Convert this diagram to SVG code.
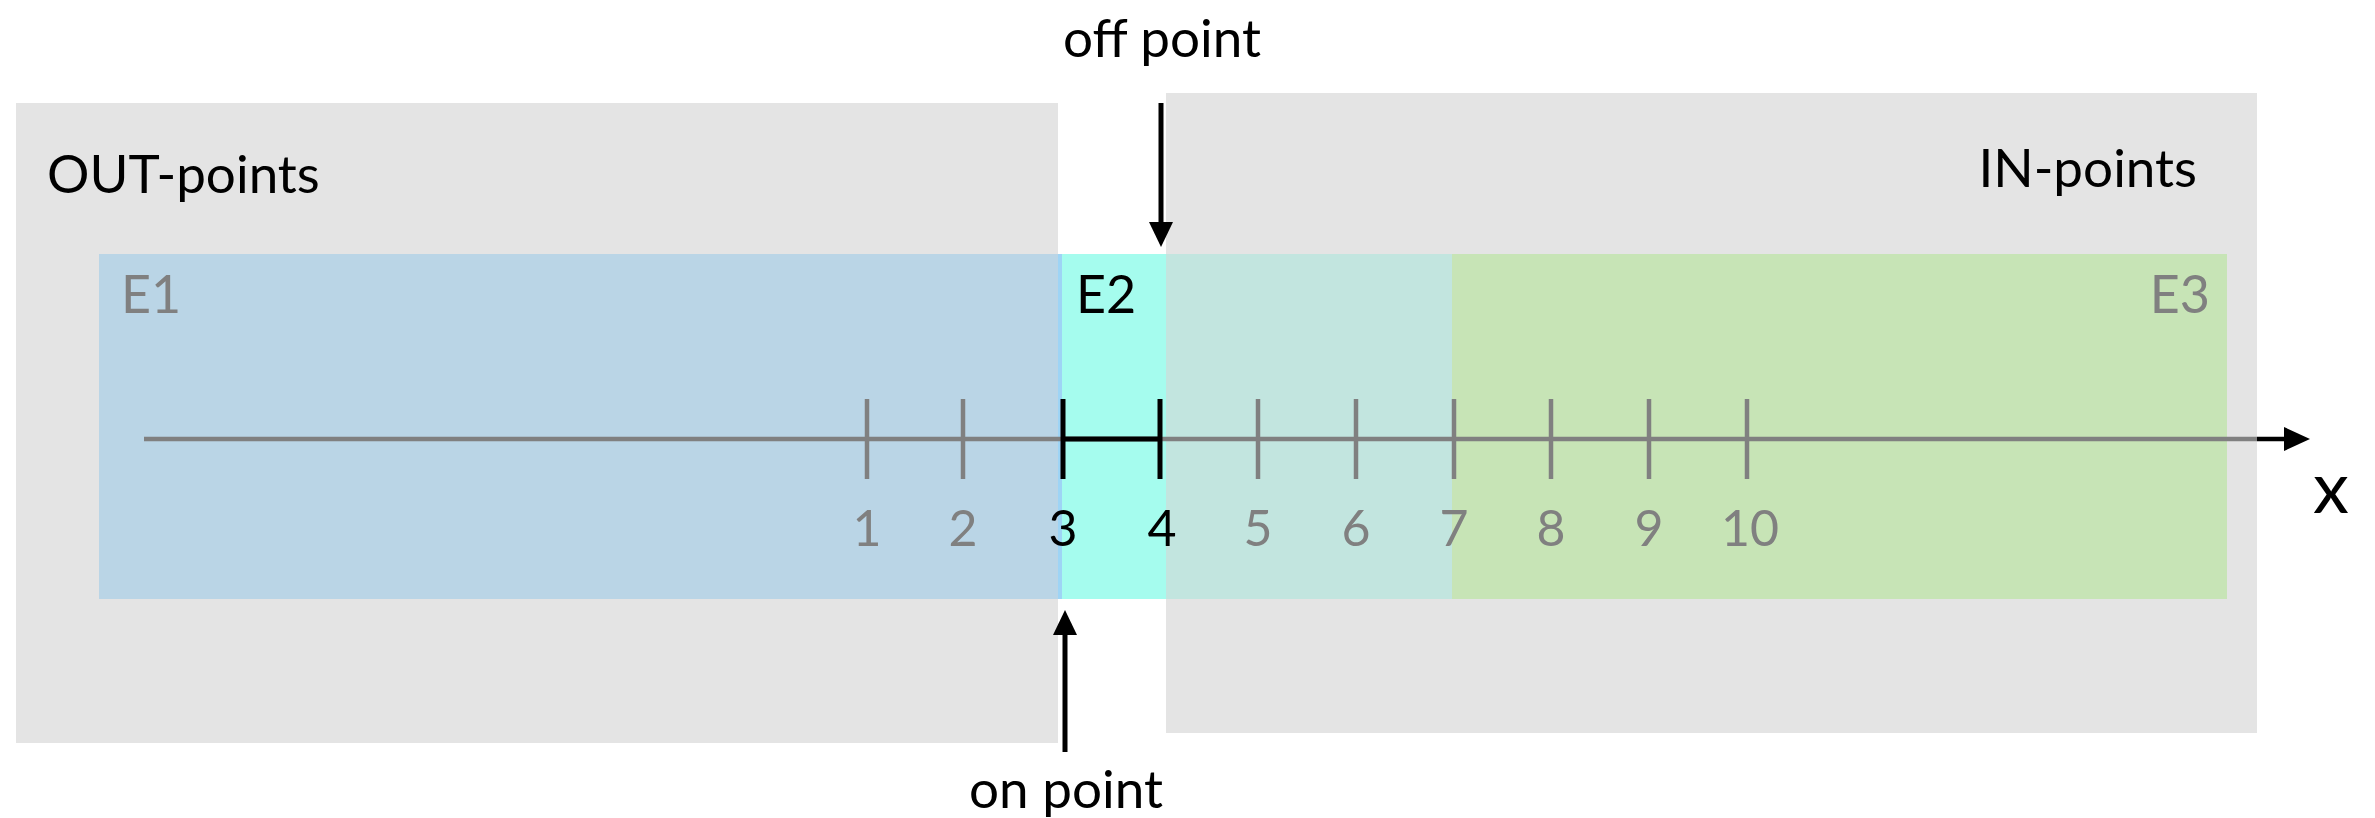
<svg xmlns="http://www.w3.org/2000/svg" width="2375" height="818" viewBox="0 0 2375 818">
<style>
text{font-family:Lato,"Liberation Sans",sans-serif}
.lbl{font-size:53px;fill:#000}
.e{font-size:52px;fill:#808080}
.num{font-size:50px;fill:#808080;text-anchor:middle}
.tick{stroke:#808080;stroke-width:4.5}
.btick{stroke:#000;stroke-width:5}
.arr{stroke:#000;stroke-width:5;fill:none}
</style>
<defs>
<marker id="ah" viewBox="0 0 10 10" refX="10" refY="5" markerWidth="10" markerHeight="10" markerUnits="userSpaceOnUse" orient="auto">
<path d="M0,0 L10,5 L0,10 z" fill="#000"/>
</marker>
</defs>
<g id="out-points">
<rect x="16" y="103" width="1042" height="640" fill="#E4E4E4"/>
<text class="lbl" x="47" y="193">OUT-points</text>
</g>
<g id="in-points">
<rect x="1166" y="93" width="1091" height="640" fill="#E4E4E4"/>
<text class="lbl" x="2197" y="187" text-anchor="end">IN-points</text>
</g>
<g id="E1">
<rect x="99" y="254" width="960" height="345" fill="#BAD5E6"/>
<text class="e" x="121" y="313">E1</text>
</g>
<g id="E3">
<rect x="1452" y="254" width="775" height="345" fill="#C7E4B6"/>
<rect x="1166" y="254" width="286" height="345" fill="#C2E5DF"/>
<text class="e" x="2210" y="313" text-anchor="end">E3</text>
</g>
<g id="E2">
<rect x="1062" y="254" width="104" height="345" fill="#A5FCEE"/>
<rect x="1058" y="254" width="4" height="345" fill="#9ED4F5"/>
<text class="e" x="1076" y="313" style="fill:#000">E2</text>
</g>
<g id="axis">
<line x1="144" y1="439" x2="2257" y2="439" stroke="#808080" stroke-width="4.5"/>
<line x1="2257" y1="439" x2="2296" y2="439" stroke="#000" stroke-width="4.5"/>
<path d="M2284,427 L2310,439 L2284,451 z" fill="#000"/>
<line class="tick" x1="867" y1="399" x2="867" y2="479"/>
<line class="tick" x1="963" y1="399" x2="963" y2="479"/>
<line class="tick" x1="1258" y1="399" x2="1258" y2="479"/>
<line class="tick" x1="1356" y1="399" x2="1356" y2="479"/>
<line class="tick" x1="1454" y1="399" x2="1454" y2="479"/>
<line class="tick" x1="1551" y1="399" x2="1551" y2="479"/>
<line class="tick" x1="1649" y1="399" x2="1649" y2="479"/>
<line class="tick" x1="1747" y1="399" x2="1747" y2="479"/>
<line class="btick" x1="1063" y1="439" x2="1160" y2="439"/>
<line class="btick" x1="1063" y1="399" x2="1063" y2="479"/>
<line class="btick" x1="1160" y1="399" x2="1160" y2="479"/>
<text class="num" x="867" y="546">1</text>
<text class="num" x="963" y="546">2</text>
<text class="num" x="1063" y="546" style="fill:#000">3</text>
<text class="num" x="1162" y="546" style="fill:#000">4</text>
<text class="num" x="1258" y="546">5</text>
<text class="num" x="1356" y="546">6</text>
<text class="num" x="1454" y="546">7</text>
<text class="num" x="1551" y="546">8</text>
<text class="num" x="1649" y="546">9</text>
<text class="num" x="1750" y="546">10</text>
<text x="2331" y="513" style="font-size:72px;fill:#000" text-anchor="middle">x</text>
</g>
<g id="connectors">
<line class="arr" x1="1161" y1="103" x2="1161" y2="224"/>
<path d="M1149,222 L1161,247 L1173,222 z" fill="#000"/>
<line class="arr" x1="1065" y1="752" x2="1065" y2="633"/>
<path d="M1053,635 L1065,610 L1077,635 z" fill="#000"/>
</g>
<g id="off-point">
<text class="lbl" x="1162" y="57" text-anchor="middle">off point</text>
</g>
<g id="on-point">
<text class="lbl" x="1066" y="808" text-anchor="middle">on point</text>
</g>
</svg>
